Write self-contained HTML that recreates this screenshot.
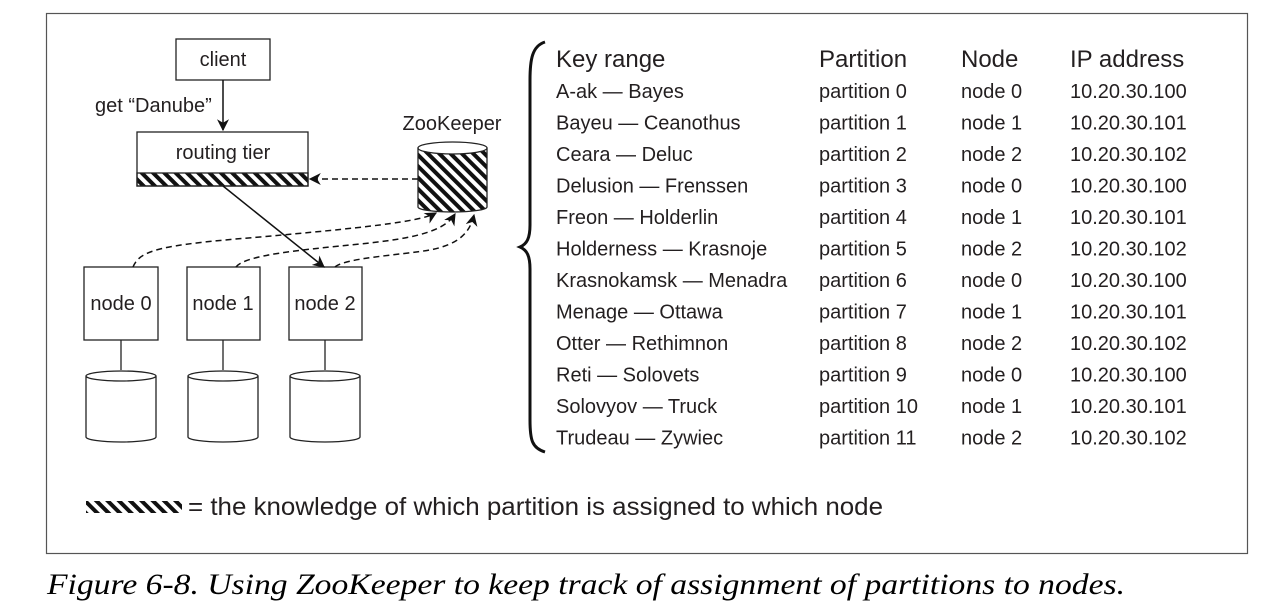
<!DOCTYPE html>
<html><head><meta charset="utf-8"><style>
html,body{margin:0;padding:0;background:#fff;}
svg{display:block;}
text{font-family:"Liberation Sans",sans-serif;fill:#231f20;}
</style></head><body>
<svg width="1266" height="611" viewBox="0 0 1266 611" xmlns="http://www.w3.org/2000/svg">
<defs>
<pattern id="h" width="8" height="8" patternUnits="userSpaceOnUse" patternTransform="rotate(-45)">
<rect x="0" y="0" width="4" height="8" fill="#111"/>
</pattern>
<marker id="a" viewBox="0 0 10 10" refX="9" refY="5" markerWidth="12" markerHeight="12" markerUnits="userSpaceOnUse" orient="auto">
<path d="M0,0 L10,5 L0,10 L3,5 z" fill="#111"/>
</marker>
</defs>
<rect x="46.5" y="13.5" width="1201" height="540" fill="none" stroke="#555" stroke-width="1.2"/>
<g stroke="#222" stroke-width="1.3" fill="#fff">
<rect x="176" y="39" width="94" height="41"/>
<rect x="137" y="132" width="171" height="54"/>
<rect x="137" y="173" width="171" height="13" fill="url(#h)"/>
<rect x="84" y="267" width="74" height="73"/>
<rect x="187" y="267" width="73" height="73"/>
<rect x="289" y="267" width="73" height="73"/>
<line x1="121" y1="340" x2="121" y2="370"/>
<line x1="223" y1="340" x2="223" y2="370"/>
<line x1="325" y1="340" x2="325" y2="370"/>
<path d="M86,376 L86,437 A35,5 0 0 0 156,437 L156,376 A35,5 0 0 0 86,376 A35,5 0 0 0 156,376"/>
<path d="M188,376 L188,437 A35,5 0 0 0 258,437 L258,376 A35,5 0 0 0 188,376 A35,5 0 0 0 258,376"/>
<path d="M290,376 L290,437 A35,5 0 0 0 360,437 L360,376 A35,5 0 0 0 290,376 A35,5 0 0 0 360,376"/>
<path d="M418,148 L418,207 A34.5,5 0 0 0 487,207 L487,148 A34.5,5 0 0 0 418,148" fill="url(#h)"/>
<ellipse cx="452.5" cy="148" rx="34.5" ry="6" fill="#fff"/>
</g>
<g stroke="#111" stroke-width="1.5" fill="none">
<line x1="223" y1="80" x2="223" y2="130" marker-end="url(#a)"/>
<line x1="223" y1="186" x2="324" y2="267" marker-end="url(#a)"/>
<g stroke-dasharray="6,4">
<line x1="418" y1="179" x2="310" y2="179" marker-end="url(#a)"/>
<path d="M133,267 C140,250 160,245 260,237 C360,228 420,222 436,213" marker-end="url(#a)"/>
<path d="M236,267 C245,255 300,250 360,244 C420,238 445,230 455,214" marker-end="url(#a)"/>
<path d="M335,267 C345,258 400,255 430,250 C460,244 470,232 474,215" marker-end="url(#a)"/>
</g>
</g>
<g font-size="20">
<text x="223" y="66" text-anchor="middle">client</text>
<text x="95" y="112">get “Danube”</text>
<text x="223" y="159" text-anchor="middle">routing tier</text>
<text x="452" y="130" text-anchor="middle">ZooKeeper</text>
<text x="121" y="310" text-anchor="middle">node 0</text>
<text x="223" y="310" text-anchor="middle">node 1</text>
<text x="325" y="310" text-anchor="middle">node 2</text>
</g>
<path d="M545,42 C532,46 530,60 530,80 L530,225 C530,238 527,244 520,247 C527,250 530,256 530,269 L530,420 C530,440 532,448 545,452" stroke="#111" stroke-width="3" fill="none"/>
<g font-size="24">
<text x="556" y="67">Key range</text>
<text x="819" y="67">Partition</text>
<text x="961" y="67">Node</text>
<text x="1070" y="67">IP address</text>
</g>
<g font-size="20">
<text x="556" y="98">A-ak — Bayes</text><text x="819" y="98">partition 0</text><text x="961" y="98">node 0</text><text x="1070" y="98">10.20.30.100</text>
<text x="556" y="129.5">Bayeu — Ceanothus</text><text x="819" y="129.5">partition 1</text><text x="961" y="129.5">node 1</text><text x="1070" y="129.5">10.20.30.101</text>
<text x="556" y="161">Ceara — Deluc</text><text x="819" y="161">partition 2</text><text x="961" y="161">node 2</text><text x="1070" y="161">10.20.30.102</text>
<text x="556" y="192.5">Delusion — Frenssen</text><text x="819" y="192.5">partition 3</text><text x="961" y="192.5">node 0</text><text x="1070" y="192.5">10.20.30.100</text>
<text x="556" y="224">Freon — Holderlin</text><text x="819" y="224">partition 4</text><text x="961" y="224">node 1</text><text x="1070" y="224">10.20.30.101</text>
<text x="556" y="255.5">Holderness — Krasnoje</text><text x="819" y="255.5">partition 5</text><text x="961" y="255.5">node 2</text><text x="1070" y="255.5">10.20.30.102</text>
<text x="556" y="287">Krasnokamsk — Menadra</text><text x="819" y="287">partition 6</text><text x="961" y="287">node 0</text><text x="1070" y="287">10.20.30.100</text>
<text x="556" y="318.5">Menage — Ottawa</text><text x="819" y="318.5">partition 7</text><text x="961" y="318.5">node 1</text><text x="1070" y="318.5">10.20.30.101</text>
<text x="556" y="350">Otter — Rethimnon</text><text x="819" y="350">partition 8</text><text x="961" y="350">node 2</text><text x="1070" y="350">10.20.30.102</text>
<text x="556" y="381.5">Reti — Solovets</text><text x="819" y="381.5">partition 9</text><text x="961" y="381.5">node 0</text><text x="1070" y="381.5">10.20.30.100</text>
<text x="556" y="413">Solovyov — Truck</text><text x="819" y="413">partition 10</text><text x="961" y="413">node 1</text><text x="1070" y="413">10.20.30.101</text>
<text x="556" y="444.5">Trudeau — Zywiec</text><text x="819" y="444.5">partition 11</text><text x="961" y="444.5">node 2</text><text x="1070" y="444.5">10.20.30.102</text>
</g>
<rect x="86" y="501" width="96" height="12" fill="url(#h)"/>
<text x="188" y="515" font-size="25" textLength="695" lengthAdjust="spacingAndGlyphs">= the knowledge of which partition is assigned to which node</text>
<text x="47" y="594" font-size="30" font-style="italic" textLength="1078" lengthAdjust="spacingAndGlyphs" style="font-family:'Liberation Serif',serif;fill:#000">Figure 6-8. Using ZooKeeper to keep track of assignment of partitions to nodes.</text>
</svg>
</body></html>
